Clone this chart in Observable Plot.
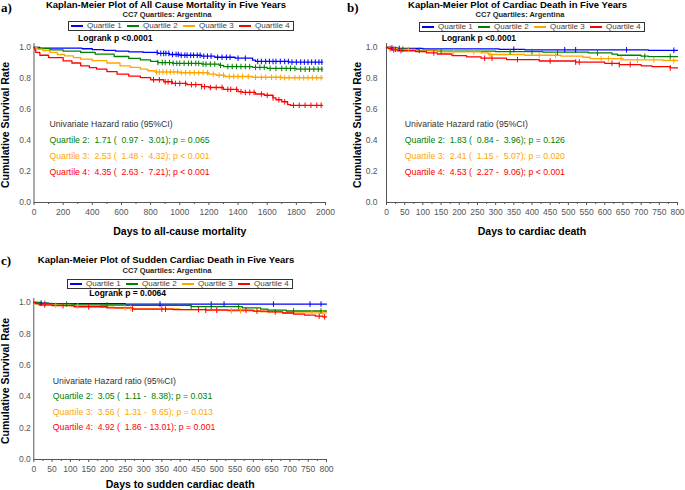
<!DOCTYPE html>
<html><head><meta charset="utf-8">
<script src="https://cdn.jsdelivr.net/npm/d3@7"></script>
<script src="https://cdn.jsdelivr.net/npm/@observablehq/plot@0.6"></script>
<style>
body{margin:0;background:#fff;font-family:"Liberation Sans",Arial,sans-serif;}
#root{position:relative;width:685px;height:490px;overflow:hidden;background:#fff;}
.abs{position:absolute;white-space:pre;}
.title{font-weight:bold;font-size:9.5px;line-height:9.5px;color:#000;transform:translateX(-50%);}
.sub{font-weight:bold;font-size:7.5px;line-height:7.5px;color:#222;transform:translateX(-50%);}
.plab{font-family:"Liberation Serif","Times New Roman",serif;font-weight:bold;font-size:13px;line-height:13px;color:#000;}
.logrank{font-weight:bold;font-size:8.5px;line-height:8.5px;color:#000;}
.legend{position:absolute;height:10px;width:226px;border:1px solid #333;box-sizing:border-box;display:flex;align-items:center;font-size:8px;line-height:8px;color:#444;background:#fff;}
.legend .item{width:56px;display:flex;align-items:center;white-space:nowrap;}
.legend .item i{display:inline-block;width:12.5px;height:1.6px;margin:0 4px 0 1.5px;}
.panel{position:absolute;}
svg text{white-space:pre;}
</style>
</head><body>
<div id="root"></div>
<script>
// ---------- data ----------
const quartiles = ["Quartile 1","Quartile 2","Quartile 3","Quartile 4"];
const lineColors = ["#0000ff","#008000","#ffa500","#ff0000"];
const yTicks = [0,0.2,0.4,0.6,0.8,1.0];
const acXTicks = [0,200,400,600,800,1000,1200,1400,1600,1800,2000];
const acXMinor = [100,300,500,700,900,1100,1300,1500,1700,1900];
const dXTicks = [0,50,100,150,200,250,300,350,400,450,500,550,600,650,700,750,800];
const dXMinor = [25,75,125,175,225,275,325,375,425,475,525,575,625,675,725,775];

// a) all-cause mortality: [day, survival] steps
const acQ1 = [[0,1],[40,0.996],[330,0.992],[400,0.986],[480,0.981],[560,0.976],[650,0.972],[750,0.968],[850,0.962],[930,0.955],[1000,0.95],[1150,0.944],[1240,0.937],[1380,0.931],[1500,0.918],[1520,0.91],[1750,0.906],[1980,0.906]];
const acQ2 = [[0,1],[30,0.993],[110,0.985],[200,0.976],[320,0.968],[420,0.957],[550,0.942],[650,0.93],[730,0.92],[800,0.91],[850,0.903],[950,0.898],[1150,0.893],[1270,0.885],[1300,0.877],[1500,0.872],[1600,0.865],[1800,0.86],[1980,0.86]];
const acQ3 = [[0,1],[20,0.99],[60,0.98],[110,0.968],[160,0.955],[210,0.946],[270,0.935],[320,0.925],[400,0.915],[500,0.9],[590,0.882],[660,0.872],[730,0.86],[780,0.85],[830,0.842],[1000,0.837],[1200,0.828],[1250,0.821],[1310,0.813],[1500,0.808],[1700,0.805],[1980,0.805]];
const acQ4 = [[0,1],[5,0.985],[12,0.968],[40,0.95],[100,0.935],[200,0.914],[260,0.9],[320,0.882],[380,0.87],[430,0.86],[500,0.845],[570,0.828],[650,0.815],[730,0.806],[800,0.792],[890,0.779],[950,0.768],[1050,0.76],[1150,0.748],[1200,0.742],[1300,0.73],[1400,0.715],[1430,0.71],[1520,0.7],[1580,0.692],[1640,0.675],[1660,0.663],[1700,0.65],[1740,0.632],[1760,0.627],[1980,0.627]];
const acQ1Censor = [845,870,890,905,925,950,975,990,1010,1035,1050,1075,1095,1120,1140,1165,1190,1215,1260,1290,1320,1345,1400,1450,1535,1560,1590,1615,1640,1660,1690,1720,1745,1770,1800,1830,1855,1880,1905,1930,1955,1975];
const acQ2Censor = [850,880,900,930,955,980,1000,1030,1060,1080,1110,1130,1160,1180,1210,1240,1280,1330,1360,1390,1420,1450,1480,1520,1550,1580,1620,1660,1700,1730,1760,1790,1830,1860,1890,1920,1950,1975];
const acQ3Censor = [840,860,885,910,935,960,985,1010,1040,1070,1100,1130,1160,1190,1230,1270,1300,1340,1370,1400,1430,1470,1520,1560,1590,1630,1660,1690,1720,1750,1790,1820,1850,1880,1910,1940,1970];
const acQ4Censor = [820,860,900,920,945,970,1000,1040,1080,1110,1150,1170,1210,1250,1290,1330,1350,1390,1420,1450,1480,1510,1560,1600,1640,1680,1720,1780,1820,1860,1900,1940,1970];
const acHazard = ["Quartile 2:  1.71 (  0.97 -  3.01); p = 0.065","Quartile 3:  2.53 (  1.48 -  4.32); p < 0.001","Quartile 4:  4.35 (  2.63 -  7.21); p < 0.001"];

// b) cardiac death
const cdQ1 = [[0,1],[10,0.997],[30,0.994],[100,0.991],[310,0.988],[380,0.985],[720,0.982],[800,0.982]];
const cdQ2 = [[0,1],[5,0.995],[20,0.989],[60,0.985],[90,0.981],[140,0.976],[300,0.973],[430,0.97],[555,0.965],[620,0.957],[635,0.95],[700,0.944],[720,0.941],[800,0.941]];
const cdQ3 = [[0,1],[10,0.993],[30,0.988],[80,0.978],[150,0.972],[260,0.965],[280,0.955],[380,0.95],[480,0.944],[540,0.937],[560,0.928],[650,0.92],[760,0.916],[800,0.916]];
const cdQ4 = [[0,1],[5,0.993],[15,0.985],[30,0.979],[80,0.974],[110,0.965],[140,0.958],[180,0.948],[220,0.94],[260,0.931],[330,0.922],[420,0.913],[520,0.906],[600,0.898],[640,0.89],[700,0.882],[730,0.876],[780,0.868],[800,0.868]];
const cdQ1Censor = [15,35,350,490,520,660,790];
const cdQ2Censor = [25,45,90,150,340,400,470,580,710,780];
const cdQ3Censor = [20,60,185,240,285,420,465,590,610,645,690,735,790];
const cdQ4Censor = [10,20,40,130,270,290,360,450,520,530,620,640,670,780];
const cdHazard = ["Quartile 2:  1.83 (  0.84 -  3.96); p = 0.126","Quartile 3:  2.41 (  1.15 -  5.07); p = 0.020","Quartile 4:  4.53 (  2.27 -  9.06); p < 0.001"];

// c) sudden cardiac death
const scQ1 = [[0,1],[10,0.996],[40,0.993],[250,0.99],[800,0.99]];
const scQ2 = [[0,1],[20,0.994],[50,0.99],[110,0.984],[250,0.982],[430,0.974],[570,0.966],[620,0.958],[640,0.952],[690,0.946],[800,0.946]];
const scQ3 = [[0,1],[5,0.99],[15,0.983],[100,0.978],[180,0.97],[220,0.966],[270,0.96],[400,0.955],[530,0.947],[620,0.941],[680,0.934],[800,0.934]];
const scQ4 = [[0,1],[5,0.993],[15,0.985],[50,0.98],[110,0.973],[200,0.966],[270,0.958],[380,0.955],[470,0.951],[600,0.945],[640,0.94],[680,0.933],[710,0.926],[740,0.92],[770,0.913],[790,0.909],[800,0.909]];
const scQ1Censor = [20,345,485,520,655,755,785];
const scQ2Censor = [30,90,200,430,485,560,710,785];
const scQ3Censor = [60,120,250,265,500,540,565,760,790];
const scQ4Censor = [30,80,150,270,350,360,450,470,500,580,610,660,780,795];
const scHazard = ["Quartile 2:  3.05 (  1.11 -  8.38); p = 0.031","Quartile 3:  3.56 (  1.31 -  9.65); p = 0.013","Quartile 4:  4.92 (  1.86 - 13.01); p = 0.001"];

const hazardHeader = "Univariate Hazard ratio (95%CI)";
const yLabel = "Cumulative Survival Rate";

// ---------- helpers ----------
function survAt(steps, day){ let s = steps[0][1]; for (const [d,v] of steps){ if (d <= day) s = v; else break; } return s; }
const keepSpaces = s => s.replace(/  /g, "\u00A0 ");
const censorTick = {draw(ctx, size){ const r = Math.sqrt(size/Math.PI); ctx.moveTo(0,-r); ctx.lineTo(0,r); }};

function makePanel(cfg){
  const lines = quartiles.flatMap((q,i)=>cfg.steps[i].map(([day,surv])=>({q,day,surv})));
  const cens = quartiles.flatMap((q,i)=>cfg.censor[i].map(day=>({q,day,surv:survAt(cfg.steps[i],day)})));
  const hz = [{t:hazardHeader,c:"#333"}].concat(cfg.hazard.map((t,i)=>({t:keepSpaces(t),c:lineColors[i+1]})));
  const hzMarks = hz.map((h,i)=>Plot.text([h], {text:"t", fill:"c", frameAnchor:"top-left", textAnchor:"start", lineAnchor:"middle", dx:cfg.hazDx, dy:cfg.hazDy[i], fontSize:8.7}));
  return Plot.plot({
    width: cfg.width, height: cfg.height,
    marginLeft: cfg.ml, marginRight: cfg.mr, marginTop: cfg.mt, marginBottom: cfg.mb,
    x: {domain:[0,cfg.xmax]}, y: {domain:[0,1]},
    color: {domain: quartiles, range: lineColors},
    style: {fontFamily:"Liberation Sans, Arial, sans-serif", fontSize:"8.5px", color:"#555", background:"transparent", overflow:"visible"},
    marks: [
      Plot.ruleX([0], {y1:0, y2:1.025, stroke:"#555", strokeWidth:1}),
      Plot.ruleY([0], {x1:0, x2:cfg.xmax, stroke:"#555", strokeWidth:1}),
      Plot.axisY({ticks:yTicks, tickSize:0, tickPadding:cfg.yPad, tickFormat:d=>d.toFixed(1), label:null, fill:"#555"}),
      Plot.axisX({ticks:cfg.xTicks, tickSize:3, tickPadding:3, tickFormat:d=>String(d), label:null, stroke:"#555", fill:"#555"}),
      Plot.axisX({ticks:cfg.xMinor, tickSize:2, tickFormat:()=>"", label:null, stroke:"#555"}),
      Plot.line(lines, {x:"day", y:"surv", z:"q", stroke:"q", curve:"step-after", strokeWidth:1.3}),
      Plot.dot(cens, {x:"day", y:"surv", stroke:"q", symbol:censorTick, r:2.8, strokeWidth:1}),
      ...hzMarks,
      Plot.text([yLabel], {text:d=>d, frameAnchor:"left", rotate:-90, dx:cfg.yLabDx, textAnchor:"middle", lineAnchor:"middle", fontWeight:"bold", fontSize:10.5, fill:"#000"}),
      Plot.text([cfg.xLabel], {text:d=>d, frameAnchor:"bottom", dy:cfg.xLabDy, textAnchor:"middle", lineAnchor:"middle", fontWeight:"bold", fontSize:10.5, fill:"#000"})
    ]
  });
}

const root = document.getElementById("root");
function addDiv(cls, text, left, top){ const d=document.createElement("div"); d.className="abs "+cls; d.textContent=text; d.style.left=left+"px"; d.style.top=top+"px"; root.appendChild(d); return d; }
function addLegend(left, top){
  const L=document.createElement("div"); L.className="legend"; L.style.left=left+"px"; L.style.top=top+"px";
  quartiles.forEach((q,i)=>{ const it=document.createElement("span"); it.className="item"; const sw=document.createElement("i"); sw.style.background=lineColors[i]; it.appendChild(sw); it.appendChild(document.createTextNode(q)); L.appendChild(it); });
  root.appendChild(L);
}
function addPlot(svg, left, top){ const w=document.createElement("div"); w.className="panel"; w.style.left=left+"px"; w.style.top=top+"px"; w.appendChild(svg); root.appendChild(w); }

// Panel a
addDiv("plab","a)",1,0.5);
addDiv("title","Kaplan-Meier Plot of All Cause Mortality in Five Years",166,-0.3);
addDiv("sub","CC7 Quartiles: Argentina",167,10.8);
addLegend(68,21);
addDiv("logrank","Logrank p <0.0001",78,34);
addPlot(makePanel({steps:[acQ1,acQ2,acQ3,acQ4], censor:[acQ1Censor,acQ2Censor,acQ3Censor,acQ4Censor], xmax:2000, xTicks:acXTicks, xMinor:acXMinor,
  xLabel:"Days to all-cause mortality", hazard:acHazard, width:340, height:198, ml:33.5, mr:15, mt:7, mb:36, yPad:3,
  hazDx:15.5, hazDy:[77,93,108.7,124.3], yLabDx:-28, xLabDy:29}), 0, 40);

// Panel b
addDiv("plab","b)",347,0.5);
addDiv("title","Kaplan-Meier Plot of Cardiac Death in Five Years",517.5,-0.3);
addDiv("sub","CC7 Quartiles: Argentina",520,10.8);
addLegend(419,22);
addDiv("logrank","Logrank p <0.0001",441.7,34);
addPlot(makePanel({steps:[cdQ1,cdQ2,cdQ3,cdQ4], censor:[cdQ1Censor,cdQ2Censor,cdQ3Censor,cdQ4Censor], xmax:800, xTicks:dXTicks, xMinor:dXMinor,
  xLabel:"Days to cardiac death", hazard:cdHazard, width:333, height:198, ml:34, mr:8, mt:7, mb:36, yPad:9,
  hazDx:18.3, hazDy:[77,93,108.7,124.3], yLabDx:-28.5, xLabDy:29}), 352, 40);

// Panel c
addDiv("plab","c)",1,254);
addDiv("title","Kaplan-Meier Plot of Sudden Cardiac Death in Five Years",166,255.3);
addDiv("sub","CC7 Quartiles: Argentina",167,266.5);
addLegend(67,279);
addDiv("logrank","Logrank p = 0.0064",89.3,289);
addPlot(makePanel({steps:[scQ1,scQ2,scQ3,scQ4], censor:[scQ1Censor,scQ2Censor,scQ3Censor,scQ4Censor], xmax:800, xTicks:dXTicks, xMinor:dXMinor,
  xLabel:"Days to sudden cardiac death", hazard:scHazard, width:340, height:196, ml:33.3, mr:14, mt:7, mb:32, yPad:3,
  hazDx:19, hazDy:[78.3,94,110,125], yLabDx:-28, xLabDy:25.3}), 0, 294.7);
</script>
</body></html>
